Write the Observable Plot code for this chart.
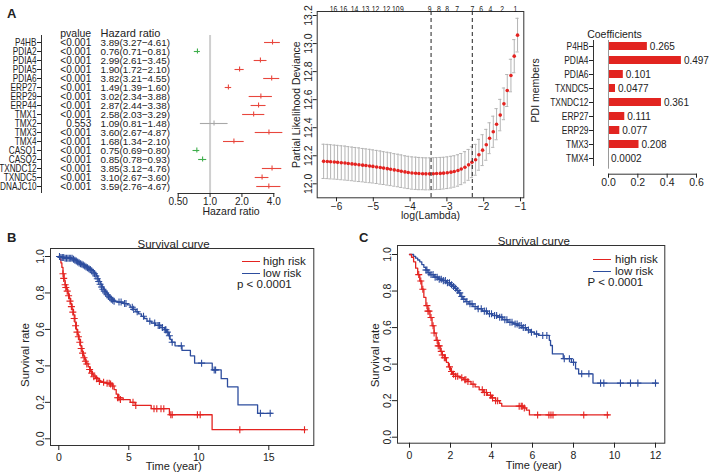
<!DOCTYPE html>
<html><head><meta charset="utf-8">
<script src="https://cdn.jsdelivr.net/npm/d3@7"></script>
<script src="https://cdn.jsdelivr.net/npm/@observablehq/plot@0.6"></script>
<style>
body{margin:0;background:#fff;}
#fig{position:relative;width:709px;height:474px;background:#fff;font-family:"Liberation Sans",Arial,sans-serif;color:#222;overflow:hidden}
#fig svg{position:absolute;left:0;top:0}
.lbl{position:absolute;white-space:nowrap;line-height:1;transform:translateY(-50%)}
.leg{position:absolute;height:0;border-top:1.6px solid}
</style></head><body><div id="fig"></div>
<script>
// ---------- Forest plot (univariate Cox) ----------
const forestGenes = ["P4HB","PDIA2","PDIA4","PDIA5","PDIA6","ERP27","ERP29","ERP44","TMX1","TMX2","TMX3","TMX4","CASQ1","CASQ2","TXNDC12","TXNDC5","DNAJC10"];
const forestP  = ["<0.001","<0.001","<0.001","<0.001","<0.001","<0.001","<0.001","<0.001","<0.001","0.553","<0.001","<0.001","<0.001","<0.001","<0.001","<0.001","<0.001"];
const forestHR = [3.89,0.76,2.99,1.90,3.82,1.49,3.02,2.87,2.58,1.09,3.60,1.68,0.75,0.85,3.85,3.10,3.59];
const forestLo = [3.27,0.71,2.61,1.72,3.21,1.39,2.34,2.44,2.03,0.81,2.67,1.34,0.69,0.78,3.12,2.67,2.76];
const forestHi = [4.61,0.81,3.45,2.10,4.55,1.60,3.88,3.38,3.29,1.48,4.87,2.10,0.80,0.93,4.76,3.60,4.67];
const forestTicks = [0.5,1,2,4];
const forestTickLabels = ["0.50","1.0","2.0","4.0"];

// ---------- LASSO cross-validation ----------
const lassoLogLambda = [-6.35,-6.25,-6.16,-6.06,-5.97,-5.87,-5.77,-5.68,-5.58,-5.49,-5.39,-5.29,-5.20,-5.10,-5.01,-4.91,-4.81,-4.72,-4.62,-4.53,-4.43,-4.33,-4.24,-4.14,-4.05,-3.95,-3.85,-3.76,-3.66,-3.57,-3.47,-3.37,-3.28,-3.18,-3.09,-2.99,-2.89,-2.80,-2.70,-2.61,-2.51,-2.41,-2.32,-2.22,-2.13,-2.03,-1.93,-1.84,-1.74,-1.65,-1.55,-1.45,-1.36,-1.26,-1.17,-1.08];
const lassoDeviance = [12.160,12.159,12.157,12.155,12.153,12.150,12.148,12.145,12.142,12.139,
  12.136,12.133,12.130,12.127,12.124,12.120,12.116,12.112,12.108,12.104,
  12.099,12.095,12.090,12.085,12.081,12.077,12.075,12.073,12.072,12.071,
  12.071,12.072,12.073,12.074,12.076,12.079,12.083,12.088,12.095,12.105,
  12.118,12.135,12.154,12.171,12.207,12.240,12.278,12.325,12.371,12.425,
  12.490,12.570,12.665,12.772,12.910,13.060];
const lassoSE = [0.122,0.122,0.122,0.121,0.121,0.121,0.121,0.120,0.120,0.120,
  0.120,0.119,0.119,0.119,0.118,0.118,0.118,0.117,0.117,0.117,
  0.116,0.116,0.116,0.115,0.115,0.115,0.115,0.115,0.114,0.114,
  0.114,0.114,0.114,0.114,0.113,0.113,0.113,0.112,0.112,0.111,
  0.111,0.110,0.110,0.110,0.110,0.110,0.110,0.110,0.111,0.111,
  0.112,0.113,0.114,0.116,0.118,0.120];
const lassoTopPos = [-6.08,-5.81,-5.51,-5.21,-4.94,-4.64,-4.39,-4.22,-3.47,-3.22,-2.99,-2.72,-2.31,-2.07,-1.82,-1.50,-1.14];
const lassoTopLabels = ["16","16","14","13","12","12","10","9","9","8","8","7","7","6","4","2","1"];
const lassoLambdaMin = -3.43, lassoLambda1se = -2.31;
const lassoXTicks = [-6,-5,-4,-3,-2,-1];
const lassoYTicks = [12.0,12.2,12.4,12.6,12.8,13.0,13.2];

// ---------- LASSO coefficients ----------
const barGenes = ["P4HB","PDIA4","PDIA6","TXNDC5","TXNDC12","ERP27","ERP29","TMX3","TMX4"];
const barCoef  = [0.265,0.497,0.101,0.0477,0.361,0.111,0.077,0.208,0.0002];
const barLabels = ["0.265","0.497","0.101","0.0477","0.361","0.111","0.077","0.208","0.0002"];
const barXTicks = [0,0.2,0.4,0.6];

// ---------- Survival B (training) [time, survival] ----------
const highB = [[0,1],[0.08,0.985],[0.15,0.965],[0.22,0.94],[0.3,0.905],[0.38,0.87],[0.45,0.845],[0.55,0.82],[0.65,0.795],[0.75,0.77],[0.85,0.74],[0.95,0.71],[1.05,0.68],[1.15,0.64],[1.25,0.6],[1.35,0.57],[1.45,0.545],[1.55,0.51],[1.65,0.48],[1.75,0.455],[1.85,0.435],[1.95,0.415],[2.1,0.395],[2.25,0.37],[2.4,0.35],[2.6,0.335],[2.8,0.32],[3.0,0.31],[3.4,0.305],[3.8,0.29],[3.95,0.27],[4.1,0.245],[4.25,0.225],[4.6,0.215],[5.1,0.2],[5.45,0.183],[6.6,0.165],[7.9,0.132],[10.95,0.05],[17.6,0.05]];
const highBCens = [[0.3,0.905],[0.35,0.88],[0.45,0.845],[0.5,0.83],[0.6,0.81],[0.7,0.785],[0.8,0.755],[0.9,0.725],[1.0,0.695],[1.1,0.66],[1.2,0.62],[1.3,0.585],[1.4,0.56],[1.5,0.53],[1.6,0.495],[1.7,0.47],[1.8,0.445],[1.9,0.425],[2.0,0.41],[2.2,0.38],[2.35,0.36],[2.5,0.34],[2.7,0.33],[2.9,0.315],[3.2,0.31],[3.45,0.305],[3.6,0.305],[3.7,0.3],[3.85,0.29],[4.2,0.225],[4.3,0.225],[4.4,0.215],[5.3,0.2],[5.5,0.183],[6.8,0.165],[7.0,0.165],[7.3,0.165],[7.5,0.165],[8.0,0.132],[8.1,0.132],[9.9,0.132],[10.1,0.132],[12.93,0.05],[17.55,0.05]];
const lowB = [[0,1],[0.3,0.995],[0.9,0.99],[1.1,0.985],[1.2,0.98],[1.3,0.975],[1.4,0.97],[1.5,0.965],[1.6,0.96],[1.7,0.957],[1.8,0.953],[1.9,0.948],[2.0,0.943],[2.1,0.938],[2.2,0.933],[2.3,0.928],[2.4,0.922],[2.5,0.914],[2.6,0.905],[2.7,0.893],[2.8,0.878],[2.9,0.863],[3.0,0.848],[3.1,0.833],[3.2,0.82],[3.3,0.81],[3.4,0.8],[3.5,0.79],[3.6,0.782],[3.7,0.774],[3.8,0.766],[3.9,0.76],[4.0,0.754],[4.2,0.75],[4.6,0.742],[4.9,0.735],[5.1,0.722],[5.3,0.71],[5.5,0.697],[5.7,0.685],[5.9,0.672],[6.1,0.66],[6.3,0.645],[6.6,0.635],[6.9,0.622],[7.3,0.61],[7.55,0.598],[7.7,0.585],[7.85,0.565],[7.95,0.545],[8.05,0.53],[8.3,0.51],[8.8,0.485],[9.4,0.455],[9.7,0.415],[10.96,0.378],[11.6,0.33],[12.05,0.285],[12.8,0.186],[14.2,0.14],[15.24,0.14]];
const lowBCens = [[0.05,1],[0.15,0.995],[0.25,0.995],[0.35,0.995],[0.45,0.99],[0.55,0.99],[0.65,0.99],[0.75,0.99],[0.85,0.99],[0.95,0.99],[1.05,0.985],[1.15,0.98],[1.25,0.975],[1.35,0.97],[1.45,0.965],[1.55,0.96],[1.65,0.957],[1.75,0.953],[1.85,0.948],[1.95,0.943],[2.05,0.938],[2.15,0.933],[2.25,0.928],[2.35,0.922],[2.45,0.914],[2.55,0.905],[2.65,0.893],[2.75,0.878],[2.85,0.863],[2.95,0.848],[3.05,0.833],[3.15,0.82],[3.25,0.81],[3.35,0.8],[3.45,0.79],[3.55,0.782],[3.65,0.774],[3.75,0.766],[3.85,0.76],[3.95,0.754],[4.3,0.75],[4.45,0.75],[4.7,0.742],[4.8,0.742],[5.25,0.722],[5.35,0.71],[5.6,0.697],[6.05,0.672],[6.5,0.645],[6.85,0.635],[7.1,0.622],[7.2,0.622],[7.4,0.61],[7.6,0.598],[7.65,0.598],[7.75,0.585],[7.9,0.565],[8.1,0.53],[8.75,0.51],[10.2,0.415],[11.1,0.378],[11.2,0.378],[14.4,0.14],[15.1,0.14]];
const survBXTicks = [0,5,10,15];

// ---------- Survival C (validation) [time, survival] ----------
const highC = [[0,1],[0.1,0.985],[0.2,0.96],[0.3,0.925],[0.4,0.89],[0.5,0.855],[0.6,0.81],[0.7,0.765],[0.8,0.72],[0.9,0.69],[1.0,0.655],[1.1,0.61],[1.2,0.57],[1.3,0.53],[1.4,0.5],[1.5,0.47],[1.6,0.45],[1.7,0.435],[1.8,0.41],[1.9,0.385],[2.0,0.36],[2.1,0.345],[2.25,0.333],[2.45,0.325],[2.65,0.315],[2.85,0.305],[3.0,0.29],[3.2,0.275],[3.4,0.26],[3.6,0.245],[3.8,0.23],[4.0,0.215],[4.2,0.2],[4.4,0.185],[4.5,0.17],[5.55,0.16],[5.7,0.148],[5.85,0.122],[9.72,0.122]];
const highCCens = [[0.45,0.89],[0.55,0.855],[0.65,0.81],[0.85,0.72],[0.9,0.69],[0.95,0.69],[1.05,0.655],[1.15,0.61],[1.2,0.57],[1.35,0.53],[1.4,0.5],[1.45,0.5],[1.55,0.47],[1.6,0.45],[1.7,0.435],[1.75,0.435],[1.95,0.385],[2.05,0.36],[2.15,0.345],[2.25,0.333],[2.35,0.333],[2.55,0.325],[2.7,0.315],[2.75,0.315],[2.85,0.305],[3.1,0.29],[3.55,0.26],[3.65,0.245],[3.75,0.245],[3.95,0.23],[4.05,0.215],[4.2,0.2],[4.3,0.2],[5.35,0.17],[5.45,0.17],[5.5,0.17],[5.6,0.16],[6.25,0.122],[6.8,0.122],[6.9,0.122],[7.0,0.122],[8.5,0.122],[9.65,0.122]];
const lowC = [[0,1],[0.2,0.99],[0.3,0.98],[0.4,0.97],[0.5,0.96],[0.6,0.945],[0.7,0.93],[0.8,0.915],[0.9,0.9],[1.0,0.89],[1.2,0.876],[1.4,0.865],[1.6,0.857],[1.8,0.845],[2.0,0.834],[2.1,0.825],[2.2,0.815],[2.3,0.803],[2.4,0.79],[2.5,0.77],[2.6,0.755],[2.75,0.742],[2.9,0.73],[3.1,0.715],[3.3,0.703],[3.55,0.69],[3.8,0.676],[4.05,0.666],[4.3,0.657],[4.55,0.643],[4.8,0.629],[5.05,0.62],[5.3,0.611],[5.5,0.6],[5.7,0.587],[5.9,0.575],[6.1,0.565],[6.3,0.557],[6.82,0.53],[6.88,0.502],[6.97,0.456],[7.5,0.43],[7.9,0.41],[8.1,0.374],[8.25,0.347],[8.95,0.296],[12.08,0.296]];
const lowCCens = [[0.8,0.915],[0.85,0.915],[0.95,0.9],[1.05,0.89],[1.15,0.89],[1.25,0.876],[1.35,0.876],[1.45,0.865],[1.55,0.865],[1.65,0.857],[1.75,0.857],[1.85,0.845],[1.95,0.845],[2.05,0.834],[2.15,0.825],[2.25,0.815],[2.35,0.803],[2.45,0.79],[2.55,0.77],[2.65,0.755],[2.8,0.742],[2.95,0.73],[3.05,0.73],[3.2,0.715],[3.35,0.703],[3.5,0.703],[3.65,0.69],[3.75,0.69],[3.9,0.676],[4.0,0.676],[4.15,0.666],[4.25,0.666],[4.4,0.657],[4.5,0.657],[4.65,0.643],[4.75,0.643],[4.9,0.629],[5.0,0.629],[5.15,0.62],[5.25,0.62],[5.35,0.611],[5.45,0.611],[5.55,0.6],[5.65,0.6],[5.8,0.587],[5.95,0.575],[6.2,0.565],[6.5,0.557],[6.7,0.557],[7.55,0.43],[7.8,0.43],[8.0,0.41],[8.4,0.347],[8.75,0.347],[9.32,0.296],[9.48,0.296],[10.29,0.296],[10.78,0.296],[11.14,0.296],[12.0,0.296]];
const survCXTicks = [0,2,4,6,8,10,12];
const survYTicks = [0,0.2,0.4,0.6,0.8,1.0];

// ---------- drawing ----------
const W = 709, H = 474;
const RED = "#e42320", BLUE = "#2d4d9e", INK = "#333";
const FONT = '"Liberation Sans", Arial, sans-serif';
const base = {width: W, height: H, style: {background: "transparent", fontFamily: FONT, fontSize: "10.5px", color: "#222", overflow: "visible"}};
const fig = document.getElementById("fig");
const add = (svg) => { fig.append(svg); return svg; };
const f1 = d3.format(".1f"), f2 = d3.format(".2f"), fd = d3.format("d");
// narrow the glyphs of some labels (the reference uses a condensed face)
function condenseTexts(texts, k) {
  texts.forEach((t) => {
    const L = t.getComputedTextLength();
    if (L > 0) { t.setAttribute("textLength", (L * k).toFixed(2)); t.setAttribute("lengthAdjust", "spacingAndGlyphs"); }
  });
}
const condense = (svg, aria, k) => condenseTexts(svg.querySelectorAll(`g[aria-label="${aria}"] text`), k);

const forestRows = forestGenes.map((g, i) => ({gene: g, p: forestP[i], hr: forestHR[i], lo: forestLo[i], hi: forestHi[i],
  txt: `${f2(forestHR[i])}(${f2(forestLo[i])}\u2212${f2(forestHi[i])})`,
  col: (forestP[i].startsWith("<") || +forestP[i] < 0.05) ? (forestHR[i] > 1 ? "#e8473d" : "#3fae4c") : "#a8a8a8"}));

// forest: table part
const forestTable = add(Plot.plot({...base,
  marginLeft: 41, marginTop: 35, marginBottom: H - 192, marginRight: W - 120,
  y: {type: "point", domain: ["hdr", ...forestGenes], range: [30.2, 188], padding: 0},
  marks: [
    Plot.frame({anchor: "left", stroke: INK}),
    Plot.axisY({ticks: forestGenes, tickSize: 4, tickPadding: 1, label: null, fontSize: 10.5}),
    Plot.text(forestRows, {y: "gene", text: "p", frameAnchor: "left", dx: 49.7, textAnchor: "end", fontSize: 10}),
    Plot.text(forestRows, {y: "gene", text: "txt", frameAnchor: "left", dx: 59, textAnchor: "start", fontSize: 9.8}),
    Plot.text([{y: "hdr", t: "pvalue"}], {y: "y", text: "t", frameAnchor: "left", dx: 49.7, textAnchor: "end", fontSize: 10.5}),
    Plot.text([{y: "hdr", t: "Hazard ratio"}], {y: "y", text: "t", frameAnchor: "left", dx: 59, textAnchor: "start", fontSize: 11})
  ]
}));
condense(forestTable, "y-axis tick label", 0.78);

// forest: graphic part
add(Plot.plot({...base,
  marginLeft: 177.7, marginRight: W - 273.3, marginTop: 35, marginBottom: H - 193,
  x: {type: "log", domain: [0.5, 4], range: [177.7, 273.3]},
  y: {type: "point", domain: forestGenes, range: [39.5, 188], padding: 0, axis: null},
  color: {type: "identity"},
  marks: [
    Plot.ruleX([1], {stroke: "#cfcfcf", strokeWidth: 2}),
    Plot.ruleY(forestRows, {y: "gene", x1: "lo", x2: "hi", stroke: "col", strokeWidth: 1.1}),
    Plot.ruleX(forestRows, {x: "hr", y1: "gene", y2: "gene", insetTop: -2.5, insetBottom: -2.5, stroke: "col", strokeWidth: 1.1}),
    Plot.frame({anchor: "bottom", stroke: INK}),
    Plot.axisX({ticks: forestTicks, tickFormat: (d) => forestTickLabels[forestTicks.indexOf(d)], tickSize: 4, tickPadding: 0, label: null, fontSize: 10}),
    Plot.text(["Hazard ratio"], {frameAnchor: "bottom", dx: 5, dy: 21.5, fontSize: 10.5})
  ]
}));

// lasso CV
const lassoRows = lassoLogLambda.map((x, i) => ({x, dev: lassoDeviance[i], se: lassoSE[i]}));
const lasso = add(Plot.plot({...base,
  marginLeft: 316.7, marginRight: W - 523.3, marginTop: 11, marginBottom: H - 197.3,
  x: {domain: [-6, -1], range: [336, 520]},
  y: {domain: [12, 13.2], range: [183.3, 15]},
  marks: [
    Plot.ruleX(lassoRows, {x: "x", y1: (d) => d.dev - d.se, y2: (d) => d.dev + d.se, stroke: "#b4b4b4"}),
    Plot.ruleY(lassoRows, {y: (d) => d.dev + d.se, x1: "x", x2: "x", insetLeft: -1.6, insetRight: -1.6, stroke: "#b4b4b4"}),
    Plot.ruleY(lassoRows, {y: (d) => d.dev - d.se, x1: "x", x2: "x", insetLeft: -1.6, insetRight: -1.6, stroke: "#b4b4b4"}),
    Plot.dot(lassoRows, {x: "x", y: "dev", r: 1.8, fill: RED}),
    Plot.ruleX([lassoLambdaMin, lassoLambda1se], {stroke: "#222", strokeDasharray: "4,3"}),
    Plot.frame({stroke: INK}),
    Plot.axisX({ticks: lassoXTicks, tickFormat: fd, tickSize: 4, tickPadding: 1, label: null, fontSize: 10}),
    Plot.axisY({ticks: lassoYTicks, tickFormat: f1, tickSize: 4, tickPadding: 1, tickRotate: -90, label: null, fontSize: 10.5}),
    Plot.text(lassoTopPos.map((p, i) => ({p, t: lassoTopLabels[i]})), {x: "p", text: "t", frameAnchor: "top", dy: -6, fontSize: 9.5}),
    Plot.text(["log(Lambda)"], {frameAnchor: "bottom", dy: 21, dx: 10, fontSize: 10.5}),
    Plot.text(["Partial Likelihood Deviance"], {frameAnchor: "left", dx: -21, rotate: -90, textAnchor: "middle", fontSize: 10.5})
  ]
}));
// the first text mark of the lasso panel holds the top "number of genes" labels
const lassoTextGroups = lasso.querySelectorAll('g[aria-label="text"]');
if (lassoTextGroups.length) condenseTexts(lassoTextGroups[0].querySelectorAll("text"), 0.72);

// coefficients bar chart
const barRows = barGenes.map((g, i) => ({gene: g, coef: barCoef[i], label: barLabels[i]}));
const bars = add(Plot.plot({...base,
  marginLeft: 608, marginRight: W - 696, marginTop: 40, marginBottom: H - 173.7,
  x: {domain: [0, 0.6], range: [608, 696]},
  y: {type: "band", domain: barGenes, range: [39, 166], paddingInner: 0.4, paddingOuter: 0.2},
  marks: [
    Plot.barX(barRows, {x: "coef", y: "gene", fill: "#e22420"}),
    Plot.ruleX([0], {stroke: "#9a9a9a", insetBottom: 5}),
    Plot.text(barRows, {x: "coef", y: "gene", text: "label", dx: 2.5, textAnchor: "start", fontSize: 10}),
    Plot.frame({anchor: "left", dx: -15, insetBottom: 8.7, stroke: INK}),
    Plot.axisY({tickSize: 4, tickPadding: 1, dx: -15, label: null, fontSize: 10.5}),
    Plot.frame({anchor: "bottom", stroke: INK}),
    Plot.axisX({ticks: barXTicks, tickFormat: f1, tickSize: 4, tickPadding: 0.5, label: null, fontSize: 10.5}),
    Plot.text(["Coefficients"], {frameAnchor: "top-left", dx: 6, dy: -10, textAnchor: "middle"}),
    Plot.text(["PDI members"], {frameAnchor: "left", dx: -73, dy: -17, rotate: -90, textAnchor: "middle"})
  ]
}));
condense(bars, "y-axis tick label", 0.8);

// survival curves
function survival(o) {
  return Plot.plot({...base,
    marginLeft: o.left, marginRight: W - o.right, marginTop: o.top, marginBottom: H - o.bottom,
    x: {domain: o.xDomain, range: o.xRange},
    y: {domain: [0, 1], range: o.yRange},
    marks: [
      Plot.frame({stroke: INK}),
      Plot.axisX({ticks: o.xTicks, tickSize: 5, tickPadding: 3, label: null, fontSize: 10.5}),
      Plot.axisY({ticks: survYTicks, tickFormat: f1, tickSize: 5, tickPadding: 1.5, tickRotate: -90, label: null, fontSize: 10.5}),
      Plot.line(o.low, {x: (d) => d[0], y: (d) => d[1], curve: "step-after", stroke: BLUE, strokeWidth: 1.3}),
      Plot.line(o.high, {x: (d) => d[0], y: (d) => d[1], curve: "step-after", stroke: RED, strokeWidth: 1.3}),
      Plot.dot(o.lowC, {x: (d) => d[0], y: (d) => d[1], symbol: "plus", r: 2.4, stroke: BLUE, strokeWidth: 1.1}),
      Plot.dot(o.highC, {x: (d) => d[0], y: (d) => d[1], symbol: "plus", r: 2.4, stroke: RED, strokeWidth: 1.1}),
      Plot.text(["Survival curve"], {frameAnchor: "top", dx: o.titleDx, dy: -9, fontSize: 11.5}),
      Plot.text(["Time (year)"], {frameAnchor: "bottom", dx: o.titleDx, dy: o.xlabDy, fontSize: 11}),
      Plot.text(["Survival rate"], {frameAnchor: "left", dx: o.ylabDx, dy: o.ylabDy, rotate: -90, textAnchor: "middle", fontSize: 11.5})
    ]
  });
}
add(survival({left: 50, right: 313.3, top: 248, bottom: 445, xDomain: [0, 15], xRange: [58.3, 268.3], yRange: [438.3, 256],
  xTicks: survBXTicks, low: lowB, high: highB, lowC: lowBCens, highC: highBCens, titleDx: -8.5, xlabDy: 24.5, ylabDx: -25, ylabDy: 8}));
add(survival({left: 397, right: 664.3, top: 245, bottom: 442.7, xDomain: [0, 12], xRange: [409, 655], yRange: [436.7, 254],
  xTicks: survCXTicks, low: lowC, high: highC, lowC: lowCCens, highC: highCCens, titleDx: 2.6, xlabDy: 25.5, ylabDx: -22, ylabDy: 11}));

// panel letters, legends
function label(text, x, y, css = "") {
  const d = document.createElement("div");
  d.className = "lbl"; d.textContent = text;
  d.style.cssText += `left:${x}px;top:${y}px;${css}`;
  fig.append(d);
}
function legLine(x, y, w, color) {
  const d = document.createElement("div");
  d.className = "leg";
  d.style.cssText += `left:${x}px;top:${y - 0.8}px;width:${w}px;border-color:${color}`;
  fig.append(d);
}
label("A", 7, 13, "font-weight:bold;font-size:13px");
label("B", 7, 237, "font-weight:bold;font-size:13px");
label("C", 359, 237, "font-weight:bold;font-size:13px");
const legendNames = ["high risk", "low risk"];
legLine(241.7, 261.7, 18.5, RED); legLine(241.7, 273.7, 18.5, BLUE);
label(legendNames[0], 263, 261.5, "font-size:11.5px"); label(legendNames[1], 263, 273.5, "font-size:11.5px");
label("p < 0.0001", 237, 284.5, "font-size:11.5px");
legLine(592.5, 259.5, 18.5, RED); legLine(592.5, 271.7, 18.5, BLUE);
label(legendNames[0], 615, 259.5, "font-size:11.5px"); label(legendNames[1], 615, 271.5, "font-size:11.5px");
label("P < 0.0001", 587.5, 282.5, "font-size:11.5px");
</script></body></html>
